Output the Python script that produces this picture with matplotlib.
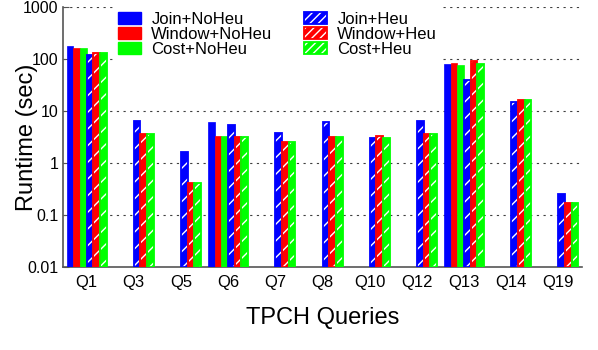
import numpy as np
from matplotlib import pyplot as plt
from matplotlib.patches import Patch
from matplotlib.legend_handler import HandlerTuple

plt.rcParams['font.family'] = ['Liberation Sans', 'DejaVu Sans']
plt.rcParams['hatch.linewidth'] = 1.0

queries = ['Q1', 'Q3', 'Q5', 'Q6', 'Q7', 'Q8', 'Q10', 'Q12', 'Q13', 'Q14', 'Q19']
# nan = no bar for that query
join_noheu   = [178, np.nan, np.nan, 6.1, np.nan, np.nan, np.nan, np.nan, 80, np.nan, np.nan]
window_noheu = [160, np.nan, np.nan, 3.3, np.nan, np.nan, np.nan, np.nan, 84, np.nan, np.nan]
cost_noheu   = [160, np.nan, np.nan, 3.3, np.nan, np.nan, np.nan, np.nan, 77, np.nan, np.nan]
join_heu     = [119, 6.3, 1.65, 5.3, 3.83, 6.06, 3.07, 6.42, 40, 14.9, 0.25]
window_heu   = [129, 3.66, 0.41, 3.12, 2.5, 3.2, 3.26, 3.61, 93, 16.3, 0.167]
cost_heu     = [129, 3.66, 0.41, 3.12, 2.5, 3.2, 3.03, 3.61, 79, 16.3, 0.167]

colors = ['#0000ff', '#ff0000', '#00ff00']
solid = [join_noheu, window_noheu, cost_noheu]
hatched = [join_heu, window_heu, cost_heu]
names_solid = ['Join+NoHeu', 'Window+NoHeu', 'Cost+NoHeu']
names_hatched = ['Join+Heu', 'Window+Heu', 'Cost+Heu']

fig, ax = plt.subplots(figsize=(5.98, 3.5), dpi=100)
fig.subplots_adjust(left=0.1054, right=0.9732, top=0.98, bottom=0.237)

x = np.arange(len(queries))
width = 0.1415
bottom = 0.01
for i in range(3):
    v = np.array(solid[i], dtype=float)
    ax.bar(x + (i - 2.5) * width, v - bottom, width, bottom=bottom,
           color=colors[i], edgecolor=colors[i], linewidth=0.5, zorder=3)
for i in range(3):
    v = np.array(hatched[i], dtype=float)
    pos = x + (i + 0.5) * width
    ax.bar(pos, v - bottom, width, bottom=bottom, color=colors[i],
           edgecolor='white', hatch='//', linewidth=0, zorder=3)
    ax.bar(pos, v - bottom, width, bottom=bottom, fill=False,
           edgecolor=colors[i], linewidth=1.3, zorder=4)

ax.set_yscale('log')
ax.set_ylim(0.01, 1000)
ax.set_xlim(-0.5, 10.5)
ax.set_yticks([0.01, 0.1, 1, 10, 100, 1000])
ax.set_yticklabels(['0.01', '0.1', '1', '10', '100', '1000'])
ax.minorticks_off()
ax.set_xticks(x)
ax.set_xticklabels(queries)
ax.tick_params(axis='x', length=0, labelsize=12, pad=6)
ax.tick_params(axis='y', direction='in', length=4, labelsize=11.5, color='#555555')

for yv in [0.1, 1, 10, 100, 1000]:
    ax.axhline(yv, color='#404040', linestyle=(0, (2, 4)), linewidth=0.8, zorder=1)

for s in ['top', 'right']:
    ax.spines[s].set_visible(False)
for s in ['left', 'bottom']:
    ax.spines[s].set_color('#555555')
    ax.spines[s].set_linewidth(1.2)

ax.set_ylabel('Runtime (sec)', fontsize=17)
ax.yaxis.set_label_coords(-0.048, 0.5)
ax.set_xlabel('TPCH Queries', fontsize=17, labelpad=12)

handles = []
labels = []
for i in range(3):
    handles.append(Patch(facecolor=colors[i], edgecolor=colors[i]))
    labels.append(names_solid[i])
for i in range(3):
    handles.append((Patch(facecolor=colors[i], edgecolor='white', hatch='////', linewidth=0),
                    Patch(fill=False, edgecolor=colors[i], linewidth=1.3)))
    labels.append(names_hatched[i])

leg = ax.legend(handles, labels, ncol=2, loc='upper left', bbox_to_anchor=(0.097, 1.0),
                fontsize=12, handlelength=1.38, handletextpad=0.6, columnspacing=1.9,
                labelspacing=0.0, borderpad=0.3, borderaxespad=0.0,
                frameon=True, fancybox=False, framealpha=1, edgecolor='none',
                handler_map={tuple: HandlerTuple(ndivide=1)})
leg.set_zorder(5)

plt.savefig('out.png', dpi=100)
